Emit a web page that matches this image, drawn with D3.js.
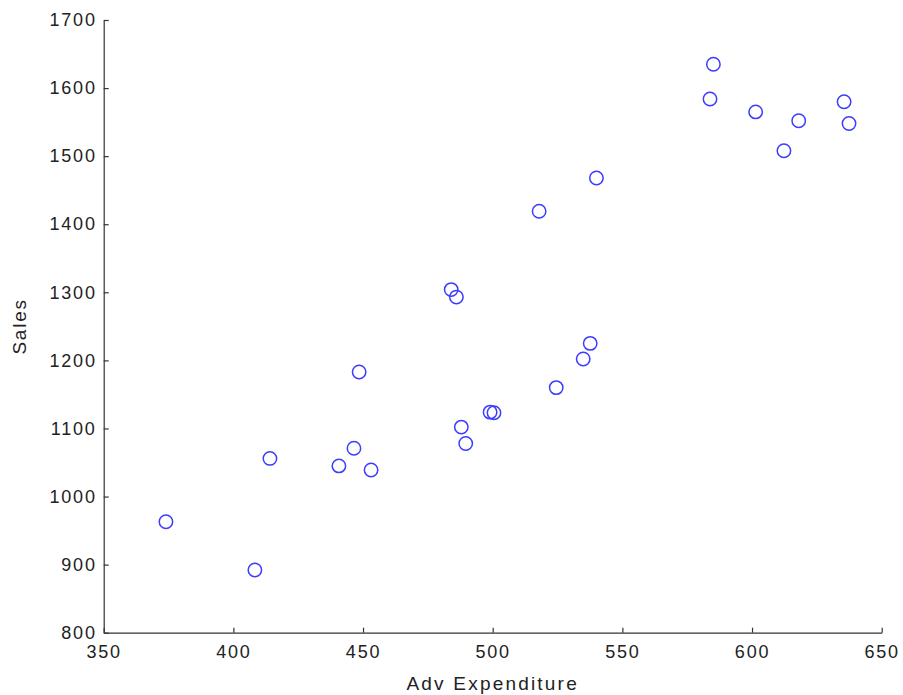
<!DOCTYPE html>
<html>
<head>
<meta charset="utf-8">
<script src="https://cdn.jsdelivr.net/npm/d3@7"></script>
<style>
  body { margin: 0; background: #fff; }
  svg { display: block; }
  text { font-family: "Liberation Sans", Arial, sans-serif; fill: #222; }
</style>
</head>
<body>
<div id="chart"></div>
<script>
const advExpenditure = [374.0, 408.3, 414.1, 440.7, 446.5, 453.1, 448.5, 484.0, 486.0, 487.9, 489.6, 499.0, 500.5, 524.5, 534.9, 537.6, 517.9, 540.0, 583.8, 585.1, 601.4, 618.0, 612.3, 635.5, 637.4];
const sales = [963, 892, 1056, 1045, 1071, 1039, 1183, 1304, 1293, 1102, 1078, 1124, 1123, 1160, 1202, 1225, 1419, 1468, 1584, 1635, 1565, 1552, 1508, 1580, 1548];
const xTicks = [350, 400, 450, 500, 550, 600, 650];
const yTicks = [800, 900, 1000, 1100, 1200, 1300, 1400, 1500, 1600, 1700];
const xLabel = "Adv Expenditure";
const yLabel = "Sales";

const W = 903, H = 695;
const m = { left: 103.7, top: 20, right: 881.7, bottom: 632.7 };

const svg = d3.select("#chart").append("svg").attr("width", W).attr("height", H);

const x = d3.scaleLinear().domain([350, 650]).range([m.left, m.right]);
const y = d3.scaleLinear().domain([800, 1700]).range([m.bottom, m.top]);

const tickFont = "18px";
const ls = "1.8px";

// x axis
const xAxis = d3.axisBottom(x).tickValues(xTicks).tickSizeInner(-5).tickSizeOuter(0).tickPadding(9).tickFormat(d3.format("d"));
const gx = svg.append("g").attr("transform", `translate(0,${m.bottom})`).call(xAxis);
gx.select(".domain").attr("stroke", "#333").attr("stroke-width", 1.2);
gx.selectAll(".tick line").attr("stroke", "#333").attr("stroke-width", 1.2);
gx.selectAll(".tick text").attr("font-size", tickFont).attr("letter-spacing", ls)
  .attr("font-family", "Liberation Sans, Arial, sans-serif").attr("fill", "#222").attr("dy", "0.9em");

// y axis
const yAxis = d3.axisLeft(y).tickValues(yTicks).tickSizeInner(-5).tickSizeOuter(0).tickPadding(7).tickFormat(d3.format("d"));
const gy = svg.append("g").attr("transform", `translate(${m.left},0)`).call(yAxis);
gy.select(".domain").attr("stroke", "#333").attr("stroke-width", 1.2);
gy.selectAll(".tick line").attr("stroke", "#333").attr("stroke-width", 1.2);
gy.selectAll(".tick text").attr("font-size", tickFont).attr("letter-spacing", ls)
  .attr("font-family", "Liberation Sans, Arial, sans-serif").attr("fill", "#222");

// points
svg.append("g").selectAll("circle")
  .data(advExpenditure.map((v, i) => [v, sales[i]]))
  .join("circle")
  .attr("cx", d => x(d[0]))
  .attr("cy", d => y(d[1]))
  .attr("r", 6.7)
  .attr("fill", "none")
  .attr("stroke", "#3c3cff")
  .attr("stroke-width", 1.5);

// labels
svg.append("text")
  .attr("x", (m.left + m.right) / 2)
  .attr("y", 690)
  .attr("text-anchor", "middle")
  .attr("font-size", "19px")
  .attr("letter-spacing", "2.2px")
  .text(xLabel);

svg.append("text")
  .attr("transform", `translate(26,${(m.top + m.bottom) / 2}) rotate(-90)`)
  .attr("text-anchor", "middle")
  .attr("font-size", "19px")
  .attr("letter-spacing", "1.8px")
  .text(yLabel);
</script>
</body>
</html>
